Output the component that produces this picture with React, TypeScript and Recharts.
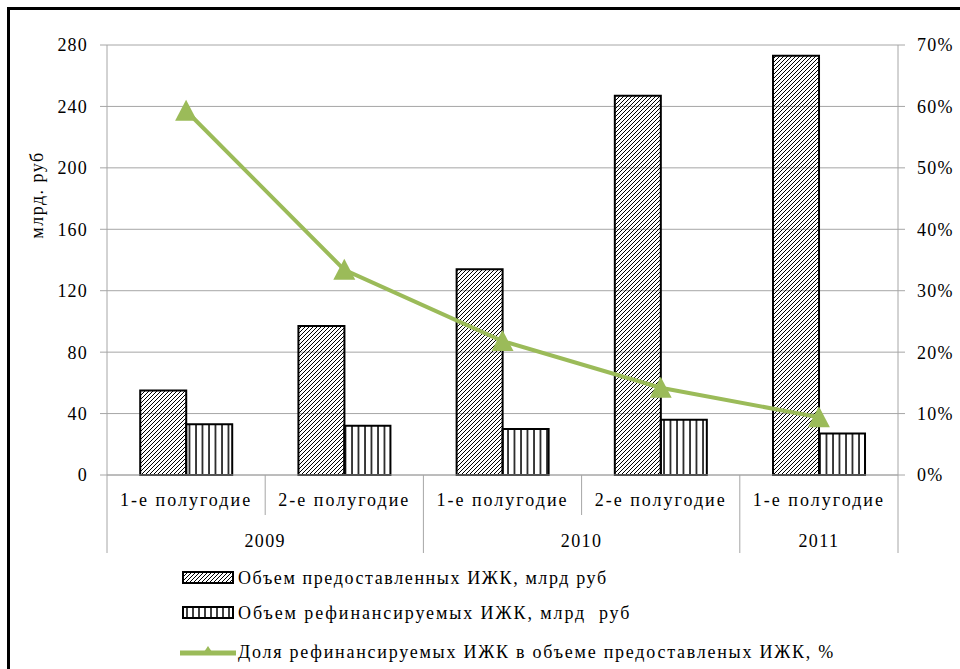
import { Bar, CartesianGrid, ComposedChart, Line, XAxis, YAxis } from 'recharts';

const halves = ['1-е полугодие', '2-е полугодие', '1-е полугодие', '2-е полугодие', '1-е полугодие'];
const years = ['2009', '2009', '2010', '2010', '2011'];
const issued = [55, 97, 134, 247, 273];
const refinanced = [33, 32, 30, 36, 27];
const share = [0.593, 0.334, 0.218, 0.142, 0.094];
const rubTicks = [0, 40, 80, 120, 160, 200, 240, 280];
const pctTicks = [0, 0.1, 0.2, 0.3, 0.4, 0.5, 0.6, 0.7];

const data = halves.map((half, i) => ({
  half,
  year: years[i],
  issued: issued[i],
  refinanced: refinanced[i],
  share: share[i],
}));

const W = 960;
const H = 669;
const LEFT_AXIS_W = 107;
const RIGHT_AXIS_W = 62;
const BAND = (W - LEFT_AXIS_W - RIGHT_AXIS_W) / halves.length;
const GREEN = '#9bbb59';
const GRID = '#a6a6a6';
const FONT = '"Liberation Serif", "Times New Roman", serif';

// two-row category axis: half-year labels, then year groups with separators
function CategoryTick(props: any) {
  const { x, y, index } = props;
  const left = x - BAND / 2;
  const newYear = index === 0 || years[index] !== years[index - 1];
  let groupSize = 1;
  while (years[index + groupSize] === years[index]) groupSize++;
  const last = index === halves.length - 1;
  return (
    <g>
      <text
        x={x}
        y={y + 31}
        textAnchor="middle"
        fontSize={18}
        fontFamily={FONT}
        fill="#000"
        style={{ letterSpacing: 2 }}
      >
        {halves[index]}
      </text>
      <line x1={left} x2={left} y1={y} y2={newYear ? y + 78 : y + 40} stroke={GRID} />
      {last && <line x1={left + BAND} x2={left + BAND} y1={y} y2={y + 78} stroke={GRID} />}
      {newYear && (
        <text
          x={left + (groupSize * BAND) / 2}
          y={y + 72}
          textAnchor="middle"
          fontSize={18}
          fontFamily={FONT}
          fill="#000"
          style={{ letterSpacing: 1.4 }}
        >
          {years[index]}
        </text>
      )}
    </g>
  );
}

function TriangleDot(props: any) {
  const { cx, cy, index } = props;
  if (cx == null || cy == null) return null;
  return (
    <path
      key={`dot-${index}`}
      d={`M${cx},${cy - 11} L${cx + 11},${cy + 10} L${cx - 11},${cy + 10} Z`}
      fill={GREEN}
    />
  );
}

const tickStyle = { fontSize: 18, fill: '#000', fontFamily: FONT, letterSpacing: 1.2 };

const legendItems = [
  { label: 'Объем предоставленных ИЖК, млрд руб', kind: 'hatch', spacing: 1.6 },
  { label: 'Объем рефинансируемых ИЖК, млрд  руб', kind: 'vert', spacing: 1.9 },
  { label: 'Доля рефинансируемых ИЖК в объеме предоставленых ИЖК, %', kind: 'line', spacing: 1.75 },
];

function Swatch({ kind }: { kind: string }) {
  return (
    <svg width={56} height={20} style={{ display: 'block' }}>
      <defs>
        <pattern id={`lg-hatch`} patternUnits="userSpaceOnUse" width={4} height={4}>
          <path d="M-1,1 l2,-2 M0,4 l4,-4 M3,5 l2,-2" stroke="#000" strokeWidth={1} />
        </pattern>
        <pattern id={`lg-vert`} patternUnits="userSpaceOnUse" width={6} height={6}>
          <line x1={1} x2={1} y1={0} y2={6} stroke="#000" strokeWidth={1.5} />
        </pattern>
      </defs>
      {kind === 'line' ? (
        <g>
          <line x1={0} x2={56} y1={11} y2={11} stroke={GREEN} strokeWidth={5} strokeLinecap="round" />
          <path d="M28,4 L34,13 L22,13 Z" fill={GREEN} />
        </g>
      ) : (
        <rect
          x={3}
          y={4}
          width={50}
          height={11}
          fill={kind === 'hatch' ? 'url(#lg-hatch)' : 'url(#lg-vert)'}
          stroke="#000"
          strokeWidth={2}
        />
      )}
    </svg>
  );
}

export default function App() {
  return (
    <div style={{ position: 'absolute', left: 0, top: 0, width: W, height: H, overflow: 'hidden', background: '#fff' }}>
      <div
        style={{
          position: 'absolute',
          left: 7,
          top: 7,
          width: 980,
          height: 700,
          border: '3px solid #000',
        }}
      />
      <div style={{ position: 'absolute', left: 0, top: 0 }}>
        <ComposedChart
          width={W}
          height={H}
          data={data}
          margin={{ top: 45, right: 0, bottom: 114, left: 0 }}
          barCategoryGap="21%"
          barGap={0}
        >
          <defs>
            <pattern id="hatch" patternUnits="userSpaceOnUse" width={4} height={4}>
              <path d="M-1,1 l2,-2 M0,4 l4,-4 M3,5 l2,-2" stroke="#000" strokeWidth={1} />
            </pattern>
            <pattern id="vert" patternUnits="userSpaceOnUse" width={6.5} height={6}>
              <line x1={1} x2={1} y1={0} y2={6} stroke="#000" strokeWidth={1.5} />
            </pattern>
          </defs>
          <CartesianGrid vertical={false} stroke={GRID} yAxisId="rub" />
          <XAxis
            dataKey="half"
            height={80}
            interval={0}
            tickLine={false}
            tickSize={0}
            tickMargin={0}
            axisLine={{ stroke: GRID }}
            tick={<CategoryTick />}
          />
          <YAxis
            yAxisId="rub"
            width={LEFT_AXIS_W}
            domain={[0, 280]}
            ticks={rubTicks}
            interval={0}
            tickSize={7}
            tickMargin={12}
            axisLine={{ stroke: GRID }}
            tickLine={{ stroke: GRID }}
            tick={tickStyle}
            label={{
              content: () => (
                <text
                  x={0}
                  y={0}
                  transform="translate(43,195) rotate(-90)"
                  textAnchor="middle"
                  fontSize={18}
                  fontFamily={FONT}
                  fill="#000"
                  style={{ letterSpacing: 1.5 }}
                >
                  млрд. руб
                </text>
              ),
            }}
          />
          <YAxis
            yAxisId="pct"
            orientation="right"
            width={RIGHT_AXIS_W}
            domain={[0, 0.7]}
            ticks={pctTicks}
            interval={0}
            tickSize={7}
            tickMargin={12}
            axisLine={{ stroke: GRID }}
            tickLine={{ stroke: GRID }}
            tick={tickStyle}
            tickFormatter={(v: number) => `${Math.round(v * 100)}%`}
          />
          <Bar
            yAxisId="rub"
            dataKey="issued"
            fill="url(#hatch)"
            stroke="#000"
            strokeWidth={2}
            isAnimationActive={false}
          />
          <Bar
            yAxisId="rub"
            dataKey="refinanced"
            fill="url(#vert)"
            stroke="#000"
            strokeWidth={2}
            isAnimationActive={false}
          />
          <Line
            yAxisId="pct"
            dataKey="share"
            type="linear"
            stroke={GREEN}
            strokeWidth={4}
            dot={<TriangleDot />}
            activeDot={false}
            isAnimationActive={false}
          />
        </ComposedChart>
      </div>
      <div style={{ position: 'absolute', left: 180, top: 566, fontFamily: FONT, fontSize: 18, color: '#000' }}>
        {legendItems.map((item, i) => (
          <div
            key={item.label}
            style={{
              display: 'flex',
              alignItems: 'center',
              height: 24,
              marginTop: i === 0 ? 0 : i === 1 ? 11 : 15,
              whiteSpace: 'pre',
            }}
          >
            <Swatch kind={item.kind} />
            <span style={{ marginLeft: 2, letterSpacing: item.spacing }}>{item.label}</span>
          </div>
        ))}
      </div>
    </div>
  );
}
